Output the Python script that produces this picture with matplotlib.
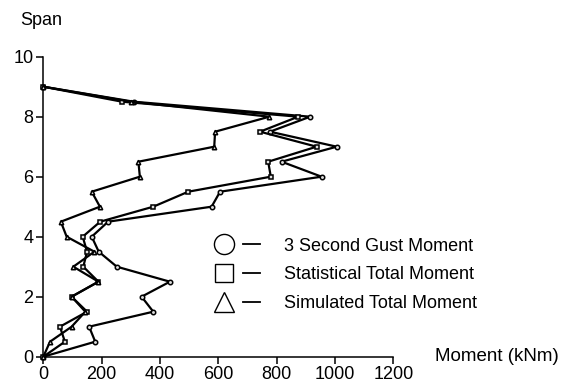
# Moment vs span chart
import matplotlib
matplotlib.use('Agg')
import matplotlib.pyplot as plt
from matplotlib.lines import Line2D
from matplotlib.legend_handler import HandlerTuple

plt.rcParams['font.family'] = ['Liberation Sans', 'DejaVu Sans']

# Data
span = [0, 0.5, 1, 1.5, 2, 2.5, 3, 3.5, 4, 4.5, 5, 5.5, 6, 6.5, 7, 7.5, 8, 8.5, 9]
gust = [0, 178, 157, 377, 337, 434, 252, 190, 166, 222, 577, 606, 954, 817, 1006, 777, 915, 310, 0]
statistical = [0, 74, 57, 150, 97, 189, 137, 150, 135, 195, 377, 497, 780, 771, 937, 743, 874, 270, 0]
simulated = [0, 23, 97, 144, 97, 189, 103, 175, 80, 60, 194, 166, 331, 326, 586, 589, 775, 300, 0]

labels = ['3 Second Gust Moment', 'Statistical Total Moment', 'Simulated Total Moment']
xticks = [0, 200, 400, 600, 800, 1000, 1200]
yticks = [0, 2, 4, 6, 8, 10]

fig = plt.figure(figsize=(5.7, 3.87), dpi=100)
ax = fig.add_axes([0.076, 0.0783, 0.614, 0.7752])

series = [(gust, 'o'), (statistical, 's'), (simulated, '^')]
for vals, mk in series:
    ax.plot(vals, span, color='black', lw=1.6, marker=mk, ms=3.2,
            mfc='#dddddd', mec='black', mew=1.1, clip_on=False, zorder=3)

ax.set_xlim(0, 1200)
ax.set_ylim(0, 10)
ax.set_xticks(xticks)
ax.set_yticks(yticks)
ax.spines['top'].set_visible(False)
ax.spines['right'].set_visible(False)
for s in ['left', 'bottom']:
    ax.spines[s].set_linewidth(1.1)
ax.tick_params(direction='out', length=5, width=1.1, labelsize=13, pad=2)

fig.text(0.035, 0.948, 'Span', fontsize=13, va='center', ha='left')
ax.text(1.12, 0.0, 'Moment (kNm)', transform=ax.transAxes, fontsize=13.5,
        va='center', ha='left')

# legend: big open marker then a short dash
handles = []
for mk, ms in [('o', 14.5), ('s', 13.5), ('^', 14.5)]:
    m = Line2D([], [], ls='none', marker=mk, ms=ms, mfc='white', mec='black', mew=1.0)
    d = Line2D([], [], color='black', lw=1.3)
    handles.append((m, d))

ax.legend(handles, labels, handler_map={tuple: HandlerTuple(ndivide=2, pad=0.6)},
          loc='upper left', bbox_to_anchor=(0.492, 0.397), frameon=False,
          fontsize=13, handlelength=2.49, handletextpad=1.3, labelspacing=0.65,
          borderpad=0, borderaxespad=0)

fig.savefig('out.png', dpi=100)
